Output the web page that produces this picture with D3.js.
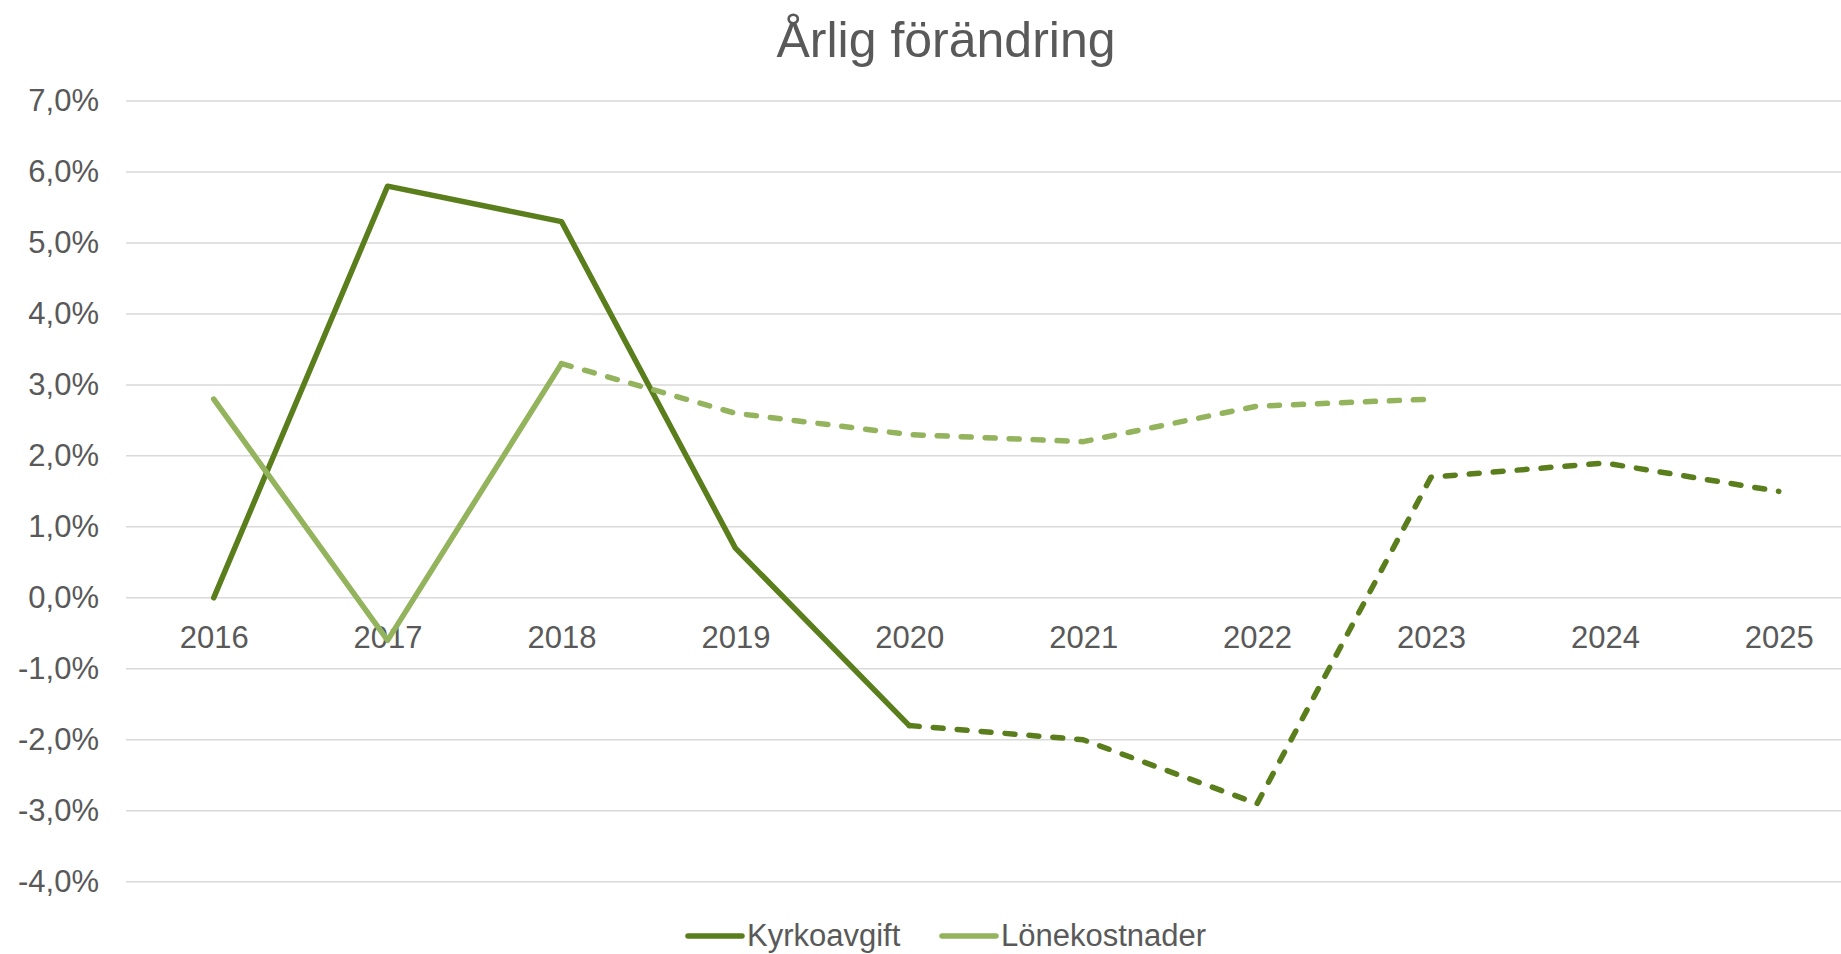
<!DOCTYPE html>
<html>
<head>
<meta charset="utf-8">
<script src="https://cdn.jsdelivr.net/npm/d3@7"></script>
<style>
  html, body { margin: 0; padding: 0; background: #fff; }
  svg { display: block; font-family: Arial, "Liberation Sans", sans-serif; }
  .axis text { fill: #595959; font-size: 31px; }
  .axis .domain, .axis line { display: none; }
</style>
</head>
<body>
<div id="chart"></div>
<script>
const years = [2016, 2017, 2018, 2019, 2020, 2021, 2022, 2023, 2024, 2025];
const kyrkoavgift = [0.0, 5.8, 5.3, 0.7, -1.8, -2.0, -2.9, 1.7, 1.9, 1.5];
const lonekostnader = [2.8, -0.6, 3.3, 2.6, 2.3, 2.2, 2.7, 2.8];
const yTicks = [-4, -3, -2, -1, 0, 1, 2, 3, 4, 5, 6, 7];
// first year drawn dashed (forecast)
const kyrkoDashFrom = 2020;
const lonDashFrom = 2018;

const series = [
  { name: "Kyrkoavgift", values: kyrkoavgift, dashFrom: kyrkoDashFrom, color: "#5a7e1c" },
  { name: "Lönekostnader", values: lonekostnader, dashFrom: lonDashFrom, color: "#93b35c" },
];

const width = 1841;
const height = 954;
const plotLeft = 126;

const locale = d3.formatLocale({ decimal: ",", thousands: " ", grouping: [3], currency: ["", " kr"], minus: "-" });
const pct = locale.format(".1f");

const svg = d3.select("#chart").append("svg")
  .attr("width", width)
  .attr("height", height);

const x = d3.scalePoint().domain(years).range([213.7, 1778.8]);
const y = d3.scaleLinear().domain([-4, 7]).range([881.7, 101]);

// grid
svg.append("g")
  .selectAll("line")
  .data(yTicks)
  .join("line")
  .attr("x1", plotLeft)
  .attr("x2", width)
  .attr("y1", (d) => y(d))
  .attr("y2", (d) => y(d))
  .attr("stroke", "#d9d9d9")
  .attr("stroke-width", 1.5);

// y axis labels
svg.append("g")
  .attr("class", "axis")
  .attr("transform", `translate(${plotLeft - 27}, 0)`)
  .call(d3.axisLeft(y).tickValues(yTicks).tickSize(0).tickPadding(0).tickFormat((d) => pct(d) + "%"));

// x axis labels (sit just below the zero line)
svg.append("g")
  .attr("class", "axis")
  .attr("transform", `translate(0, ${y(0) + 28})`)
  .call(d3.axisBottom(x).tickSize(0).tickPadding(0));

const line = d3.line()
  .x((d) => x(d.year))
  .y((d) => y(d.value));

series.forEach((s) => {
  const pts = s.values.map((v, i) => ({ year: years[i], value: v }));
  const solid = pts.filter((p) => p.year <= s.dashFrom);
  const dashed = pts.filter((p) => p.year >= s.dashFrom);
  svg.append("path")
    .datum(solid)
    .attr("fill", "none")
    .attr("stroke", s.color)
    .attr("stroke-width", 5.5)
    .attr("stroke-linejoin", "round")
    .attr("stroke-linecap", "round")
    .attr("d", line);
  svg.append("path")
    .datum(dashed)
    .attr("fill", "none")
    .attr("stroke", s.color)
    .attr("stroke-width", 5.5)
    .attr("stroke-linejoin", "round")
    .attr("stroke-linecap", "round")
    .attr("stroke-dasharray", "10 14")
    .attr("d", line);
});

// title
svg.append("text")
  .attr("x", 946)
  .attr("y", 57)
  .attr("text-anchor", "middle")
  .attr("fill", "#595959")
  .attr("font-size", 50)
  .text("Årlig förändring");

// legend
const legendItems = [
  { name: series[0].name, color: series[0].color, x: 688 },
  { name: series[1].name, color: series[1].color, x: 942 },
];
const legend = svg.append("g");
legendItems.forEach((item) => {
  legend.append("line")
    .attr("x1", item.x)
    .attr("x2", item.x + 54)
    .attr("y1", 936)
    .attr("y2", 936)
    .attr("stroke", item.color)
    .attr("stroke-width", 5.5)
    .attr("stroke-linecap", "round");
  legend.append("text")
    .attr("x", item.x + 59)
    .attr("y", 946)
    .attr("fill", "#595959")
    .attr("font-size", 31)
    .text(item.name);
});
</script>
</body>
</html>
